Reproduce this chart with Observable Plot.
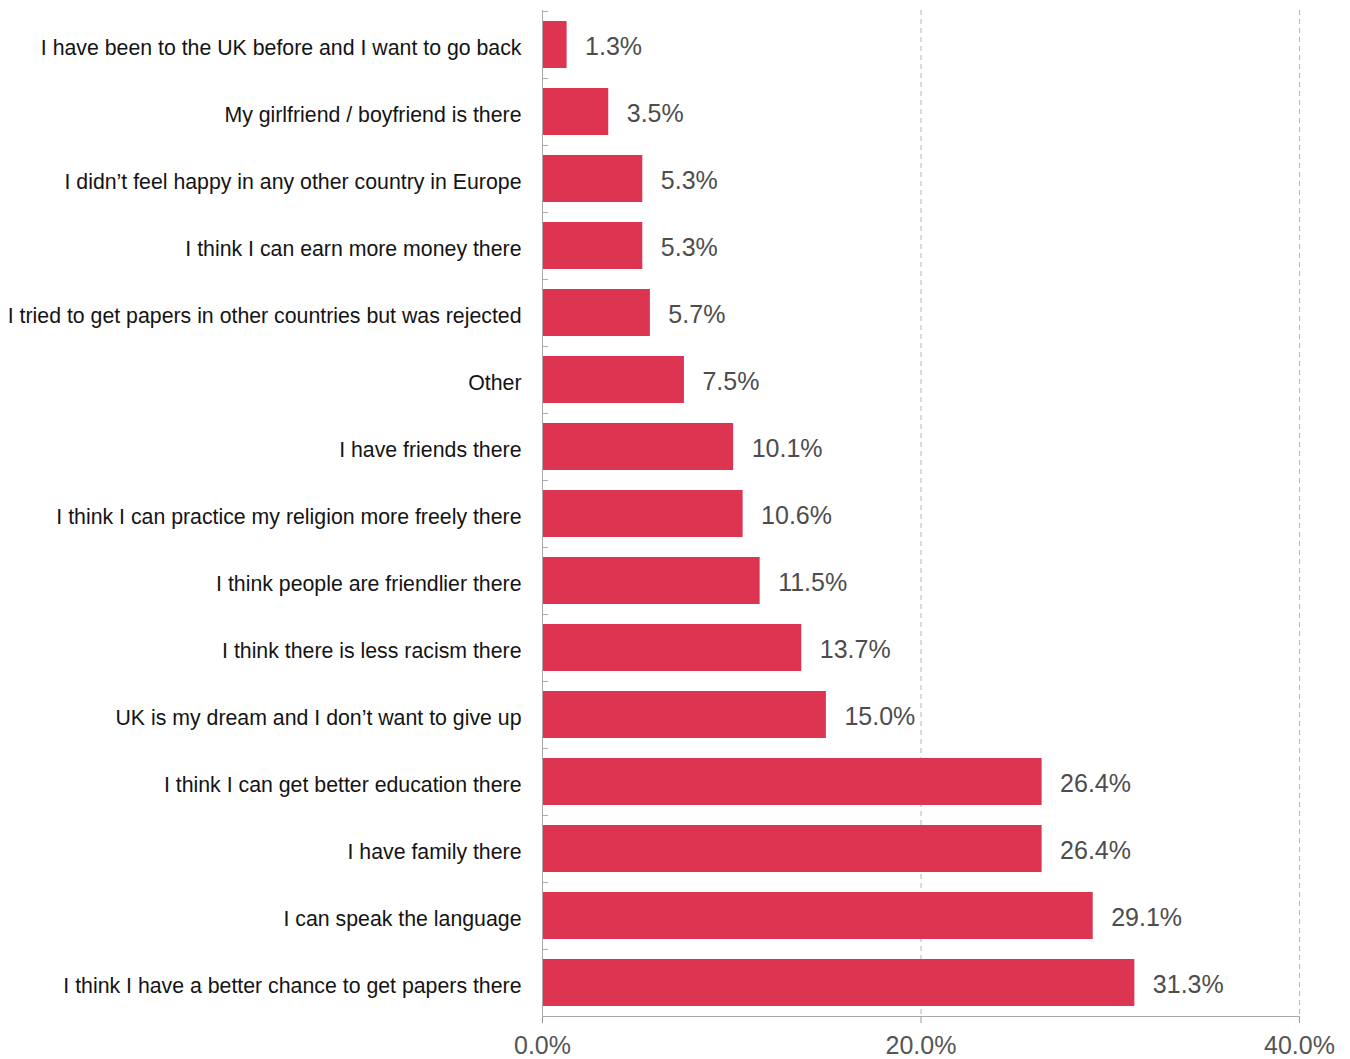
<!DOCTYPE html>
<html>
<head>
<meta charset="utf-8">
<script src="https://cdn.jsdelivr.net/npm/d3@7"></script>
<script src="https://cdn.jsdelivr.net/npm/@observablehq/plot@0.6"></script>
<style>
  html, body { margin: 0; padding: 0; background: #fff; }
</style>
</head>
<body>
<div id="chart"></div>
<script>
const categories = [
  "I have been to the UK before and I want to go back",
  "My girlfriend / boyfriend is there",
  "I didn\u2019t feel happy in any other country in Europe",
  "I think I can earn more money there",
  "I tried to get papers in other countries but was rejected",
  "Other",
  "I have friends there",
  "I think I can practice my religion more freely there",
  "I think people are friendlier there",
  "I think there is less racism there",
  "UK is my dream and I don\u2019t want to give up",
  "I think I can get better education there",
  "I have family there",
  "I can speak the language",
  "I think I have a better chance to get papers there"
];
const values = [1.3, 3.5, 5.3, 5.3, 5.7, 7.5, 10.1, 10.6, 11.5, 13.7, 15.0, 26.4, 26.4, 29.1, 31.3];
const xTicks = [0, 20, 40];
const gridTicks = [20, 40];

const data = categories.map((c, i) => ({label: c, value: values[i]}));
const pct = d => d.toFixed(1) + "%";

const chart = Plot.plot({
  width: 1350,
  height: 1059,
  marginLeft: 542,
  marginRight: 51,
  marginTop: 10,
  marginBottom: 43,
  style: {fontFamily: "'Liberation Sans', Arial, sans-serif", background: "#fff"},
  x: {domain: [0, 40]},
  y: {domain: categories, paddingInner: 0.3, paddingOuter: 0.15},
  marks: [
    Plot.gridX(gridTicks, {stroke: "#b5b5b5", strokeOpacity: 1, strokeDasharray: "5,4"}),
    Plot.barX(data, {x: "value", y: "label", fill: "#dd3451"}),
    Plot.text(data, {x: "value", y: "label", text: d => pct(d.value), textAnchor: "start", dx: 18, dy: 2, fontSize: 25, fill: "#4d4d4d"}),
    Plot.axisY({tickSize: 0, tickPadding: 21, dy: 3, fontSize: 21.3, fill: "#141414", label: null}),
    Plot.axisY({tickSize: -6, dy: -33.53, tickFormat: () => "", stroke: "#aaa", label: null}),
    Plot.axisX(xTicks, {tickFormat: pct, tickSize: 7, tickPadding: 13, fontSize: 25, fill: "#555", stroke: "#999", label: null}),
    Plot.ruleX([0], {stroke: "#aaa"}),
    Plot.frame({anchor: "bottom", stroke: "#aaa"})
  ]
});
document.getElementById("chart").appendChild(chart);
</script>
</body>
</html>
